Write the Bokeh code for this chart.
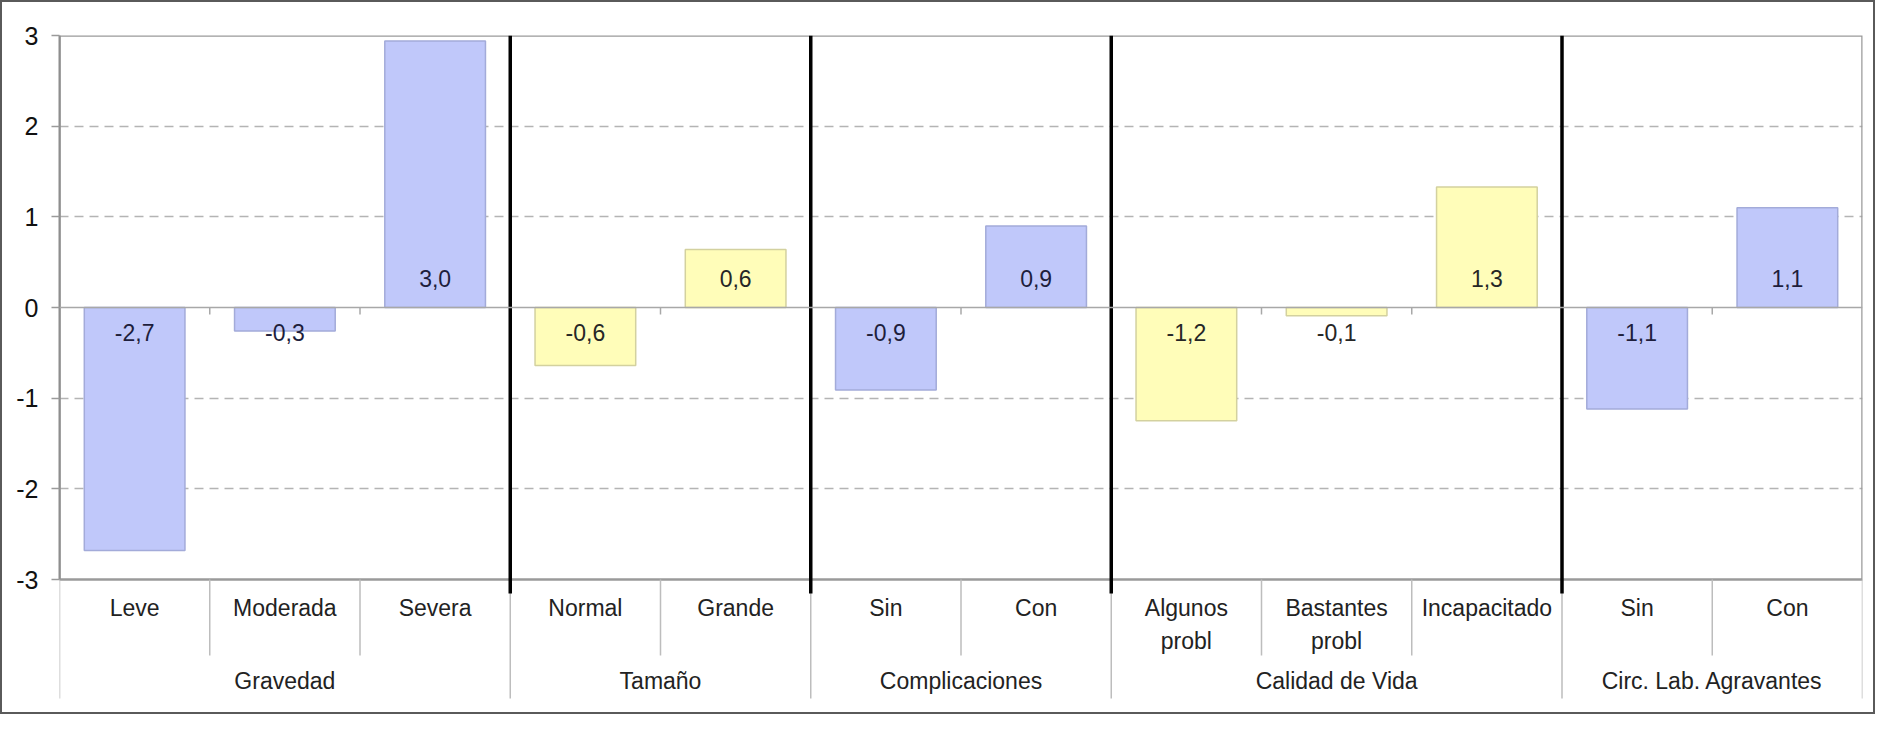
from bokeh.plotting import figure
from bokeh.models import ColumnDataSource, FactorRange, Range1d, FixedTicker, Span
from bokeh.core.properties import value
from bokeh.embed import file_html
from bokeh.resources import INLINE

# ---------------- data ----------------
groups = ["Gravedad", "Tamaño", "Complicaciones", "Calidad de Vida", "Circ. Lab. Agravantes"]
group_sizes = [3, 2, 2, 3, 2]
group_kind = ["blue", "yellow", "blue", "yellow", "blue"]
categories = ["Leve", "Moderada", "Severa", "Normal", "Grande", "Sin", "Con",
              "Algunos\nprobl", "Bastantes\nprobl", "Incapacitado", "Sin", "Con"]
values = [-2.68, -0.26, 2.94, -0.64, 0.64, -0.91, 0.90, -1.25, -0.09, 1.33, -1.12, 1.10]
value_labels = ["-2,7", "-0,3", "3,0", "-0,6", "0,6", "-0,9", "0,9", "-1,2", "-0,1", "1,3", "-1,1", "1,1"]
y_ticks = [-3, -2, -1, 0, 1, 2, 3]

# ---------------- styles ----------------
FONT = value("Liberation Sans")
FILL = {"blue": "#c0c8fa", "yellow": "#fffdb9"}
EDGE = {"blue": "#a3abd9", "yellow": "#d3d19f"}
TXT = {"blue": "#1e1e3c", "yellow": "#262626"}

W, H = 1875, 714
LEFT, TOP, RIGHT, BOTTOM = 59, 35, 13, 9
FRAME_H = H - TOP - BOTTOM      # whole frame incl. label area
PLOT_H = 544                    # pixel height of the -3..3 value area
ymax = max(y_ticks)
ymin_frame = ymax - (ymax - min(y_ticks)) * FRAME_H / PLOT_H

# ---------------- derived ----------------
factors, kinds = [], []
i = 0
for g, n, k in zip(groups, group_sizes, group_kind):
    for c in categories[i:i + n]:
        factors.append((g, c))
        kinds.append(k)
    i += n

group_bounds = [0]
for n in group_sizes:
    group_bounds.append(group_bounds[-1] + n)
all_bounds = list(range(len(categories) + 1))
inner_cat_bounds = [b for b in all_bounds if b not in group_bounds]
inner_group_bounds = group_bounds[1:-1]
group_centers = [(a + b) / 2 for a, b in zip(group_bounds[:-1], group_bounds[1:])]

src = ColumnDataSource(dict(
    x=factors, top=values,
    fill=[FILL[k] for k in kinds], edge=[EDGE[k] for k in kinds],
    lab=value_labels, tcol=[TXT[k] for k in kinds],
    line1=[c.split("\n")[0] for c in categories],
    line2=[c.split("\n")[1] if "\n" in c else "" for c in categories],
))
pos = ColumnDataSource({k: [v for v, t in zip(src.data[k], values) if t >= 0] for k in src.data})
neg = ColumnDataSource({k: [v for v, t in zip(src.data[k], values) if t < 0] for k in src.data})

p = figure(width=W, height=H, output_backend="svg", toolbar_location=None,
           x_range=FactorRange(*factors, factor_padding=0, group_padding=0, range_padding=0),
           y_range=Range1d(ymin_frame, ymax),
           x_axis_location=None,
           min_border_left=LEFT, min_border_top=TOP, min_border_right=RIGHT,
           min_border_bottom=BOTTOM)
p.extra_y_ranges = {"px": Range1d(start=FRAME_H, end=0)}
p.outline_line_color = None
p.background_fill_color = "white"
p.border_fill_color = "white"

# outer border of the whole chart (CSS overlay, does not change layout)
p.stylesheets = [
    ":host { position: relative; }\n"
    ":host::after { content: ''; position: absolute; left: 0; top: 0; right: 0; bottom: 0;"
    " border: 2px solid #5a5a5a; pointer-events: none; z-index: 1000; }"
]

# y axis
ya = p.yaxis[0]
ya.ticker = FixedTicker(ticks=y_ticks)
ya.bounds = (min(y_ticks), max(y_ticks))
ya.major_label_overrides = {t: str(t) for t in y_ticks}
ya.axis_line_color = "#8e8e8e"
ya.axis_line_width = 2
ya.major_tick_line_color = "#9a9a9a"
ya.major_tick_line_width = 1.5
ya.major_tick_out = 8
ya.major_tick_in = 0
ya.minor_tick_line_color = None
ya.major_label_text_font = "Liberation Sans"
ya.major_label_text_font_size = "25px"
ya.major_label_text_color = "#111111"
ya.major_label_standoff = 13

# grid
p.xgrid.grid_line_color = None
p.ygrid.ticker = FixedTicker(ticks=[t for t in y_ticks if t not in (0, min(y_ticks), max(y_ticks))])
p.ygrid.grid_line_color = "#b4b4b4"
p.ygrid.grid_line_dash = "9 6"
p.ygrid.grid_line_width = 1.5

# plot-area frame (value area only)
p.quad(left=[0], right=[len(categories)], top=[ymax], bottom=[min(y_ticks)],
       fill_color=None, line_color="#9a9a9a", line_width=2.5)

# zero line
p.add_layout(Span(location=0, dimension="width", line_color="#a8a8a8", line_width=1.5))

# bars
p.vbar(x="x", top="top", bottom=0, width=0.67, source=src,
       fill_color="fill", line_color="edge", line_width=1.5)

# small ticks on zero line
p.segment(x0=all_bounds[1:-1], x1=all_bounds[1:-1], y0=[272] * (len(all_bounds) - 2),
          y1=[279] * (len(all_bounds) - 2), y_range_name="px", line_color="#a8a8a8", line_width=1.5)

# value labels
p.text(x="x", y=0, text="lab", source=pos, text_color="tcol", text_font=FONT,
       text_font_size="23px", text_align="center", text_baseline="middle", y_offset=-29)
p.text(x="x", y=0, text="lab", source=neg, text_color="tcol", text_font=FONT,
       text_font_size="23px", text_align="center", text_baseline="middle", y_offset=25)

# category axis separators
p.segment(x0=inner_cat_bounds, x1=inner_cat_bounds, y0=[544] * len(inner_cat_bounds),
          y1=[620] * len(inner_cat_bounds), y_range_name="px", line_color="#bdbdbd", line_width=1.5)
p.segment(x0=group_bounds, x1=group_bounds, y0=[544] * len(group_bounds),
          y1=[663] * len(group_bounds), y_range_name="px", line_color="#bdbdbd", line_width=1.5)
# group separators in plot
p.segment(x0=inner_group_bounds, x1=inner_group_bounds, y0=[0] * len(inner_group_bounds),
          y1=[558] * len(inner_group_bounds), y_range_name="px", line_color="#000000", line_width=3.5)

# category labels
p.text(x="x", y=572, text="line1", source=src, y_range_name="px", text_font=FONT,
       text_font_size="23px", text_color="#222222", text_align="center", text_baseline="middle")
p.text(x="x", y=605, text="line2", source=src, y_range_name="px", text_font=FONT,
       text_font_size="23px", text_color="#222222", text_align="center", text_baseline="middle")
# group labels
p.text(x=group_centers, y=[645] * len(groups), text=groups, y_range_name="px", text_font=FONT,
       text_font_size="23px", text_color="#222222", text_align="center", text_baseline="middle")

open("out.html", "w").write(file_html(p, INLINE))
